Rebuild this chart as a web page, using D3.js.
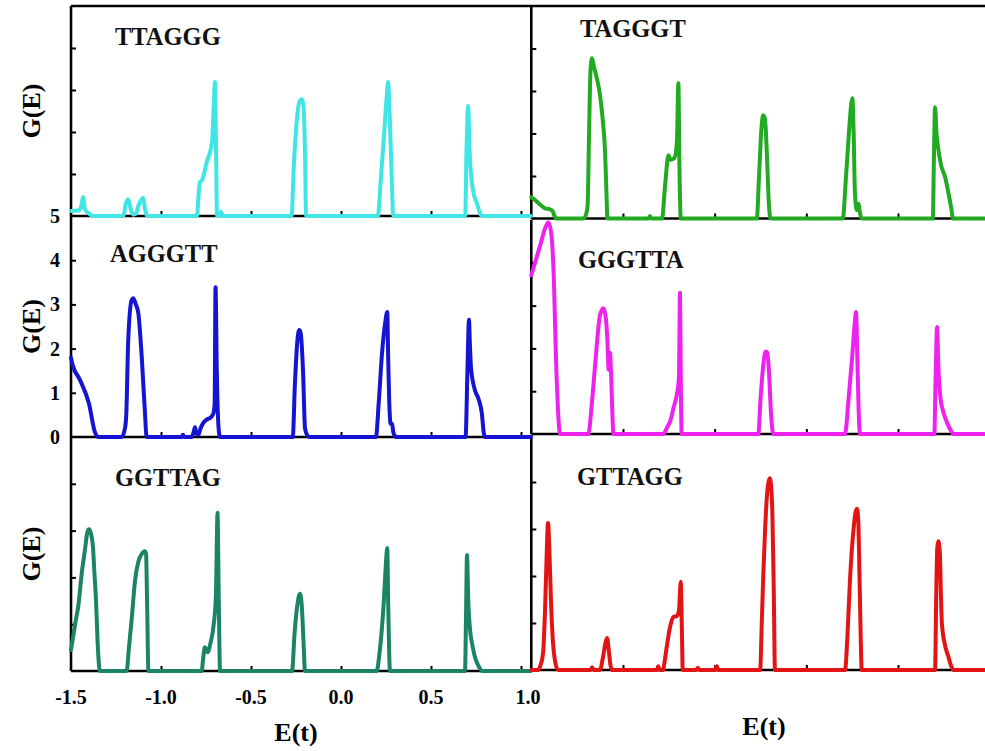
<!DOCTYPE html>
<html><head><meta charset="utf-8">
<script src="https://cdn.jsdelivr.net/npm/d3@7"></script>
<style>body{margin:0;background:#fff}svg{display:block}</style>
</head><body><svg id="c" width="985" height="751"></svg>
<script>
// ---- data ----
const xTickValues = [-1.0, -0.5, 0.0, 0.5, 1.0];
const xLabelValues = [-1.5, -1.0, -0.5, 0.0, 0.5, 1.0];
const xLabelTexts = ["-1.5", "-1.0", "-0.5", "0.0", "0.5", "1.0"];
const yTickValues = [1, 2, 3, 4];
const yLabelValues = [0, 1, 2, 3, 4, 5];
const sequences = ["TTAGGG", "TAGGGT", "AGGGTT", "GGGTTA", "GGTTAG", "GTTAGG"];

const TTAGGG = [[-1.5,0.12],[-1.46,0.13],[-1.445,0.2],[-1.433,0.45],[-1.422,0.15],[-1.405,0.08],[-1.38,0],
 [-1.21,0],[-1.195,0.3],[-1.183,0.4],[-1.17,0.2],[-1.155,0.03],[-1.14,0.05],[-1.125,0.25],[-1.1,0.43],[-1.09,0.2],[-1.078,0],
 [-0.8,0],[-0.794,0.3],[-0.785,0.8],[-0.772,0.85],[-0.745,1.3],[-0.717,1.74],[-0.707,2.6],[-0.7,3.19],[-0.694,1.5],[-0.689,0],
 [-0.675,0],[-0.667,0.1],[-0.656,0],
 [-0.275,0],[-0.262,1.2],[-0.245,2.3],[-0.232,2.7],[-0.217,2.78],[-0.208,2.6],[-0.2,1.5],[-0.194,0],
 [0.205,0],[0.22,0.8],[0.24,2.0],[0.255,2.9],[0.261,3.19],[0.272,2.2],[0.285,0.5],[0.29,0],
 [0.69,0],[0.697,1.5],[0.706,2.62],[0.715,1.5],[0.733,0.62],[0.755,0.3],[0.783,0],[1.055,0]];

const TAGGGT = [[-1.5,0.5],[-1.475,0.42],[-1.453,0.33],[-1.425,0.24],[-1.4,0.22],[-1.385,0.18],[-1.365,0],
 [-1.215,0],[-1.2,0.12],[-1.193,0.3],[-1.185,2.0],[-1.177,3.5],[-1.169,3.77],[-1.16,3.6],[-1.14,3.25],[-1.125,2.9],[-1.11,2.3],[-1.098,1.6],[-1.09,0.6],[-1.085,0],
 [-0.86,0],[-0.853,0.06],[-0.845,0],
 [-0.787,0],[-0.77,0.8],[-0.752,1.49],[-0.743,1.38],[-0.72,1.42],[-0.706,1.8],[-0.698,3.18],[-0.692,1.2],[-0.685,0],
 [-0.27,0],[-0.258,1.0],[-0.245,2.1],[-0.236,2.43],[-0.226,2.35],[-0.215,1.5],[-0.205,0.4],[-0.196,0],
 [0.199,0],[0.215,0.9],[0.232,2.0],[0.245,2.7],[0.251,2.83],[0.258,2.0],[0.265,0.6],[0.275,0.2],[0.285,0.35],[0.29,0.2],[0.302,0],
 [0.69,0],[0.696,1.5],[0.702,2.62],[0.71,2.0],[0.718,1.68],[0.735,1.25],[0.757,0.97],[0.775,0.6],[0.79,0.25],[0.8,0],[1.0,0]];

const AGGGTT = [[-1.5,1.79],[-1.49,1.62],[-1.45,1.29],[-1.4,0.75],[-1.367,0.11],[-1.35,0],
 [-1.218,0],[-1.2,0.2],[-1.193,0.5],[-1.182,2.19],[-1.163,3.1],[-1.154,3.14],[-1.14,3.0],[-1.126,2.8],[-1.107,1.81],[-1.089,0.54],[-1.08,0],
 [-0.885,0],[-0.878,0.05],[-0.87,0],
 [-0.83,0],[-0.818,0.12],[-0.811,0.22],[-0.803,0.08],[-0.792,0.05],[-0.78,0.2],[-0.765,0.32],[-0.745,0.4],[-0.728,0.43],[-0.71,0.52],[-0.702,0.75],[-0.697,3.39],[-0.69,1.5],[-0.68,0.2],[-0.672,0],
 [-0.268,0],[-0.256,1.2],[-0.243,2.15],[-0.232,2.42],[-0.224,2.35],[-0.211,1.5],[-0.2,0.2],[-0.19,0.06],[-0.175,0],
 [0.194,0],[0.21,0.8],[0.228,1.9],[0.246,2.6],[0.257,2.83],[0.262,1.8],[0.268,0.8],[0.276,0.3],[0.284,0.3],[0.291,0.1],[0.306,0],
 [0.692,0],[0.703,1.6],[0.711,2.65],[0.716,2.1],[0.722,1.58],[0.744,1.06],[0.765,0.85],[0.782,0.55],[0.793,0.1],[0.8,0],[1.055,0]];

const GGGTTA = [[-1.5,3.71],[-1.452,4.4],[-1.425,4.8],[-1.407,4.95],[-1.39,4.65],[-1.38,3.95],[-1.361,1.22],[-1.343,0],
 [-1.189,0],[-1.17,0.7],[-1.152,1.61],[-1.125,2.78],[-1.107,2.94],[-1.095,2.75],[-1.085,2.2],[-1.078,1.5],[-1.071,1.9],[-1.064,1.3],[-1.058,0.5],[-1.052,0],
 [-0.78,0],[-0.76,0.15],[-0.74,0.33],[-0.725,0.6],[-0.705,0.95],[-0.695,1.3],[-0.689,3.3],[-0.684,1.0],[-0.68,0],
 [-0.262,0],[-0.25,0.8],[-0.235,1.6],[-0.222,1.93],[-0.213,1.9],[-0.203,1.4],[-0.193,0.5],[-0.18,0],
 [0.211,0],[0.23,0.8],[0.25,1.8],[0.264,2.6],[0.271,2.85],[0.278,1.8],[0.285,0.6],[0.293,0],
 [0.698,0],[0.705,1.3],[0.713,2.5],[0.72,1.6],[0.731,0.86],[0.748,0.5],[0.768,0.26],[0.788,0.08],[0.804,0],[1.0,0]];

const GGTTAG = [[-1.5,0.45],[-1.475,1.05],[-1.459,1.4],[-1.44,2.1],[-1.422,2.6],[-1.41,2.95],[-1.4,3.03],[-1.39,2.95],[-1.378,2.65],[-1.37,2.1],[-1.361,1.5],[-1.352,0.6],[-1.345,0.15],[-1.339,0],
 [-1.191,0],[-1.178,0.5],[-1.163,1.1],[-1.144,1.94],[-1.125,2.35],[-1.107,2.5],[-1.09,2.56],[-1.083,2.5],[-1.077,1.4],[-1.07,0],
 [-0.774,0],[-0.765,0.3],[-0.756,0.51],[-0.741,0.4],[-0.725,0.6],[-0.709,0.94],[-0.695,1.6],[-0.686,3.38],[-0.679,1.5],[-0.672,0],
 [-0.272,0],[-0.258,0.8],[-0.243,1.4],[-0.228,1.65],[-0.218,1.4],[-0.208,0.6],[-0.2,0],
 [0.198,0],[0.213,0.35],[0.226,0.85],[0.238,1.5],[0.248,2.2],[0.257,2.63],[0.262,1.5],[0.267,0.5],[0.272,0],
 [0.689,0],[0.695,1.3],[0.7,2.48],[0.707,1.5],[0.717,0.88],[0.73,0.55],[0.744,0.3],[0.765,0.1],[0.783,0],[1.055,0]];

const GTTAGG = [[-1.5,0],[-1.463,0],[-1.45,0.1],[-1.436,0.35],[-1.425,1.28],[-1.415,2.6],[-1.409,3.13],[-1.401,2.5],[-1.393,1.5],[-1.382,0.6],[-1.371,0.2],[-1.354,0],
 [-1.175,0],[-1.169,0.06],[-1.16,0],
 [-1.126,0],[-1.11,0.25],[-1.097,0.55],[-1.087,0.68],[-1.077,0.4],[-1.068,0.1],[-1.06,0],
 [-0.815,0],[-0.808,0.08],[-0.8,0],[-0.782,0],[-0.772,0.2],[-0.761,0.5],[-0.743,0.92],[-0.725,1.13],[-0.707,1.15],[-0.695,1.25],[-0.685,1.88],[-0.679,0.9],[-0.674,0],
 [-0.6,0],[-0.592,0.05],[-0.584,0],[-0.496,0],[-0.488,0.08],[-0.48,0],
 [-0.252,0],[-0.243,1.0],[-0.235,2.0],[-0.225,2.98],[-0.215,3.7],[-0.207,3.98],[-0.199,4.08],[-0.192,3.9],[-0.185,3.3],[-0.178,1.8],[-0.171,0],
 [0.211,0],[0.225,0.8],[0.238,1.91],[0.257,2.98],[0.268,3.35],[0.276,3.43],[0.283,3.2],[0.29,2.0],[0.296,0.8],[0.302,0],
 [0.702,0],[0.708,1.5],[0.714,2.6],[0.72,2.74],[0.728,2.5],[0.734,1.6],[0.739,1.0],[0.755,0.55],[0.775,0.28],[0.79,0.08],[0.802,0],[1.0,0]];

const seriesData = [TTAGGG, TAGGGT, AGGGTT, GGGTTA, GGTTAG, GTTAGG];
const colors = ["#40e6e6", "#22aa22", "#1414d2", "#ee22ee", "#1b8466", "#e31414"];

// ---- layout ----
const FONT = "'Times New Roman','Liberation Serif',serif";
const layout = [
  {xr:[71,521],  yr:[216,6],   right:531, lab:[115,45],  axisLab:false},
  {xr:[531.3,989.7], yr:[218.5,6], right:985, lab:[580,37],  axisLab:false},
  {xr:[71,521],  yr:[437,216], right:531, lab:[110,262], axisLab:true},
  {xr:[531.3,989.7], yr:[434,220], right:985, lab:[578,268], axisLab:false},
  {xr:[71,521],  yr:[671,437], right:531, lab:[115,486], axisLab:false},
  {xr:[531.3,989.7], yr:[670,435], right:985, lab:[577,485], axisLab:false}
];

const svg = d3.select("#c");
const gAxes = svg.append("g");
const gLines = svg.append("g");

gAxes.append("line").attr("x1",71).attr("x2",985).attr("y1",6).attr("y2",6)
  .attr("stroke","#000").attr("stroke-width",2.6);

layout.forEach((L, i) => {
  const x = d3.scaleLinear().domain([-1.5, 1.0]).range(L.xr);
  const y = d3.scaleLinear().domain([0, 5]).range(L.yr);
  const g = gAxes.append("g");
  g.append("line").attr("x1",L.xr[0]).attr("x2",L.xr[0]).attr("y1",L.yr[1]).attr("y2",L.yr[0])
    .attr("stroke","#000").attr("stroke-width",2.6);
  g.append("line").attr("x1",L.xr[0]).attr("x2",L.right).attr("y1",L.yr[0]).attr("y2",L.yr[0])
    .attr("stroke","#000").attr("stroke-width",2.6);
  const ya = g.append("g").attr("transform",`translate(${L.xr[0]},0)`)
    .call(d3.axisLeft(y).tickValues(yTickValues).tickSize(-5).tickFormat(""));
  ya.select(".domain").remove();
  ya.selectAll("line").attr("stroke","#000").attr("stroke-width",2);
  const xa = g.append("g").attr("transform",`translate(0,${L.yr[0]})`)
    .call(d3.axisBottom(x).tickValues(xTickValues.filter(v => x(v) < L.right - 2)).tickSize(-5).tickFormat(""));
  xa.select(".domain").remove();
  xa.selectAll("line").attr("stroke","#000").attr("stroke-width",2);

  if (L.axisLab) {
    g.selectAll("text.yl").data(yLabelValues).join("text").attr("class","yl")
      .attr("x", L.xr[0] - 11).attr("y", d => y(d)).attr("dy","0.35em")
      .attr("text-anchor","end").attr("font-family",FONT).attr("font-weight","bold")
      .attr("font-size",20).text(d => d);
  }
  const cy = (L.yr[0] + L.yr[1]) / 2;
  if (i % 2 === 0) {
    svg.append("text").attr("transform",`translate(31,${cy}) rotate(-90)`)
      .attr("text-anchor","middle").attr("dy","0.35em")
      .attr("font-family",FONT).attr("font-weight","bold").attr("font-size",26).text("G(E)");
  }
  svg.append("text").attr("x",L.lab[0]).attr("y",L.lab[1])
    .attr("font-family",FONT).attr("font-weight","bold").attr("font-size",24.5)
    .attr("fill","#111").text(sequences[i]);

  const line = d3.line().x(d => x(d[0])).y(d => y(d[1])).curve(d3.curveMonotoneX);
  gLines.append("path").datum(seriesData[i]).attr("d", line)
    .attr("fill","none").attr("stroke",colors[i]).attr("stroke-width",4)
    .attr("stroke-linejoin","round").attr("stroke-linecap","round");

  if (i === 4) {
    svg.selectAll("text.xl").data(xLabelValues).join("text").attr("class","xl")
      .attr("x", d => x(d) + (d === 1.0 ? 7 : 0)).attr("y", L.yr[0] + 33)
      .attr("text-anchor","middle").attr("font-family",FONT).attr("font-weight","bold")
      .attr("font-size",20).text((d, k) => xLabelTexts[k]);
  }
});

svg.append("text").attr("x",296).attr("y",741).attr("text-anchor","middle")
  .attr("font-family",FONT).attr("font-weight","bold").attr("font-size",26).text("E(t)");
svg.append("text").attr("x",764).attr("y",735).attr("text-anchor","middle")
  .attr("font-family",FONT).attr("font-weight","bold").attr("font-size",26).text("E(t)");
</script>
</body></html>
